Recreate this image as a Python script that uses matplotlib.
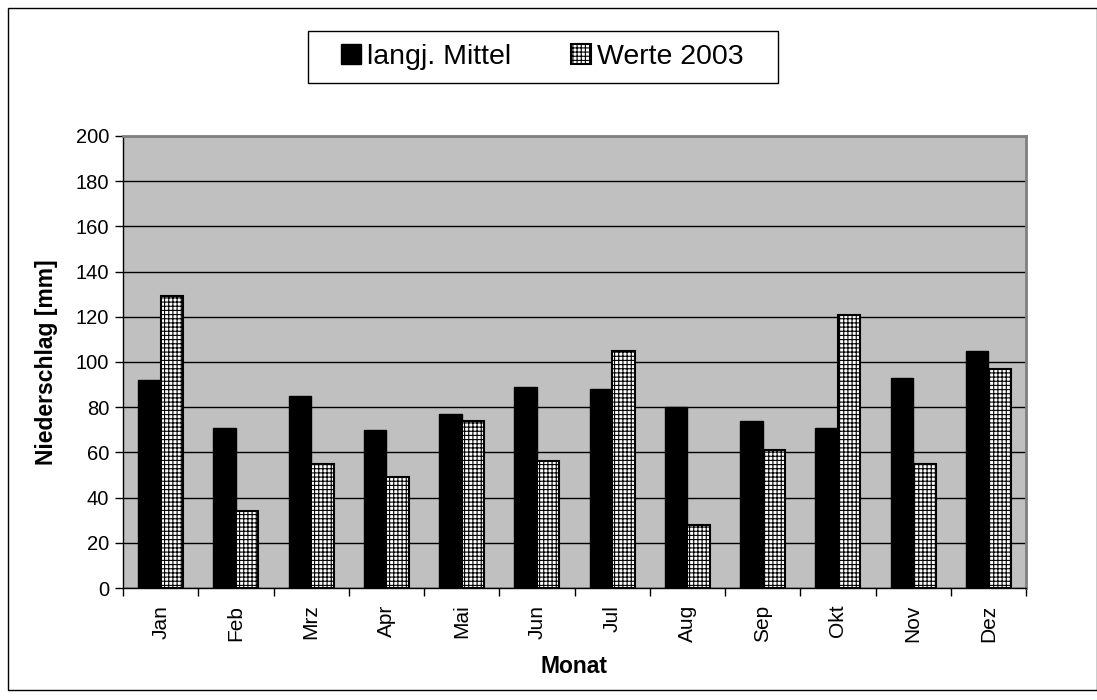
import matplotlib.pyplot as plt
import numpy as np
from matplotlib.patches import Rectangle

plt.rcParams['font.family'] = ['Liberation Sans', 'DejaVu Sans']
plt.rcParams['hatch.linewidth'] = 0.8

months = ["Jan", "Feb", "Mrz", "Apr", "Mai", "Jun", "Jul", "Aug", "Sep", "Okt", "Nov", "Dez"]
mittel = [92, 71, 85, 70, 77, 89, 88, 80, 74, 71, 93, 105]
werte_2003 = [129, 34, 55, 49, 74, 56, 105, 28, 61, 121, 55, 97]

W, H = 1097, 700
fig = plt.figure(figsize=(W/100, H/100), dpi=100)
ax = fig.add_axes([123/W, 1 - 588/H, (1026 - 123)/W, (588 - 136)/H])
ax.set_facecolor("#c0c0c0")

x = np.arange(len(months))
w = 0.3
ax.bar(x - w/2, mittel, w, color="black", edgecolor="black", linewidth=1.0,
       label="langj. Mittel", zorder=3)
ax.bar(x + w/2, werte_2003, w, color="white", edgecolor="black", linewidth=1.5,
       hatch="++++", label="Werte 2003", zorder=3)

ax.set_xlim(-0.5, len(months) - 0.5)
ax.set_ylim(0, 200)
ax.set_yticks(range(0, 201, 20))
ax.yaxis.grid(True, color="black", linewidth=1.0, zorder=1)
ax.set_axisbelow(True)

ax.set_xticks(x)
ax.set_xticklabels(months, rotation=90, fontsize=15)
ax.set_xticks(np.arange(-0.5, len(months)), minor=True)
ax.tick_params(axis="x", which="major", length=0, pad=12)
ax.tick_params(axis="x", which="minor", length=6, width=1, direction="out")
ax.tick_params(axis="y", length=6, width=1, direction="out", labelsize=14.5, pad=4)

for s in ["top", "right"]:
    ax.spines[s].set_color("#808080")
    ax.spines[s].set_linewidth(2)
for s in ["left", "bottom"]:
    ax.spines[s].set_color("black")
    ax.spines[s].set_linewidth(1)

ax.set_ylabel("Niederschlag [mm]", fontsize=16.5, fontweight="bold")
ax.set_xlabel("Monat", fontsize=16.5, fontweight="bold")
ax.yaxis.set_label_coords((58 - 123)/903, 0.5)
ax.xaxis.set_label_coords(0.5, (588 - 655)/452)

# legend without its own frame; the box is drawn separately
fig.legend(loc="center", bbox_to_anchor=(542/W, 1 - 57/H), ncol=2,
           fontsize=20.5, frameon=False,
           handlelength=0.7, handleheight=0.7, handletextpad=0.21,
           columnspacing=2.1, borderpad=0.0)
fig.patches.append(Rectangle((308/W, 1 - 83/H), (778 - 308)/W, (83 - 31)/H,
                             transform=fig.transFigure, fill=False,
                             edgecolor="black", linewidth=1.0))

# outer chart border
fig.patches.append(Rectangle((8/W, 1 - 690/H), (1096.5 - 8)/W, (690 - 8)/H,
                             transform=fig.transFigure, fill=False,
                             edgecolor="black", linewidth=1.0))

fig.savefig("out.png", dpi=100)
